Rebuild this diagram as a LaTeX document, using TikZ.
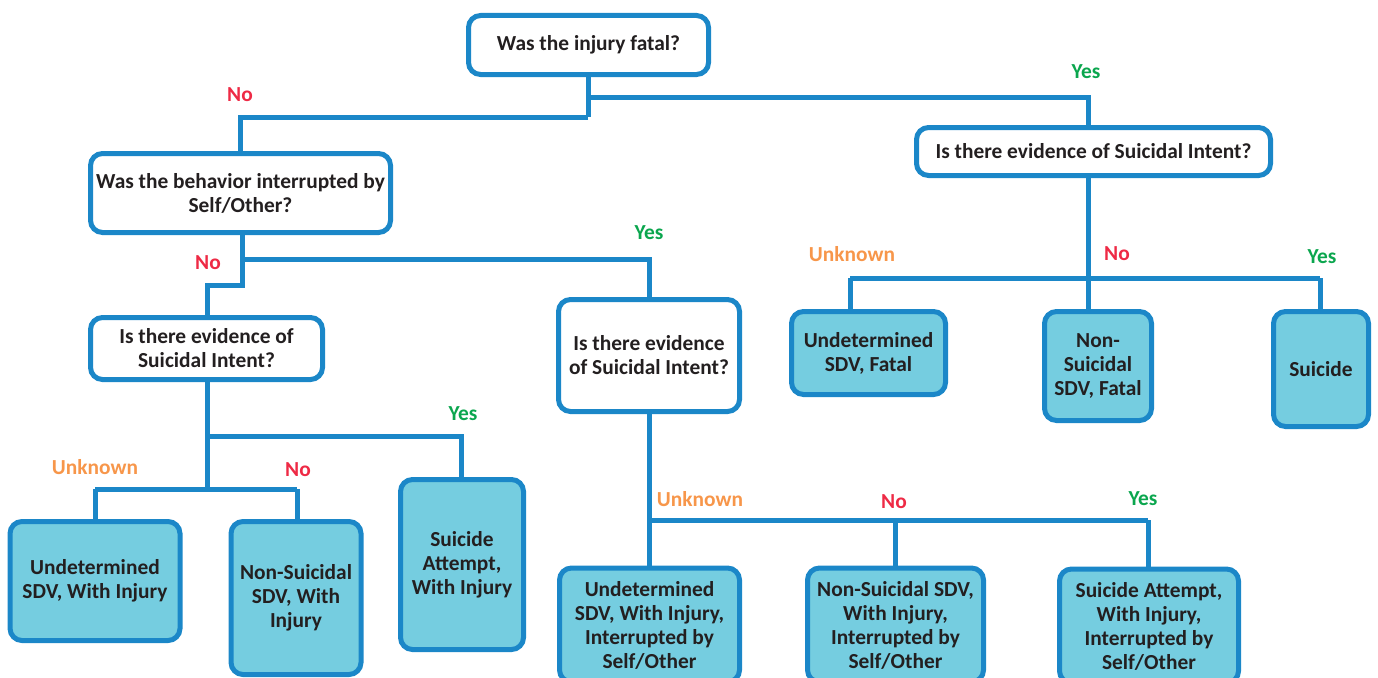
\documentclass[tikz,border=0pt]{standalone}
\usepackage{fontspec}
\setmainfont{Carlito}
\definecolor{lineblue}{HTML}{1B87C8}
\definecolor{boxfill}{HTML}{75CDE0}
\definecolor{txt}{HTML}{231F20}
\definecolor{nored}{HTML}{EE2A45}
\definecolor{yesgreen}{HTML}{0BA64E}
\definecolor{unkorange}{HTML}{F7964A}
\tikzset{
  x=1pt, y=-1pt,
  basebox/.style={draw=lineblue, line width=5pt, rounded corners=12pt, inner sep=0pt,
    align=center, text=txt, font=\fontsize{21.4}{24}\selectfont\bfseries},
  qbox/.style={basebox, fill=white},
  rbox/.style={basebox, fill=boxfill},
  conn/.style={draw=lineblue, line width=5pt},
  lab/.style={font=\fontsize{21.4}{24}\selectfont\bfseries, inner sep=0pt},
  lno/.style={lab, text=nored},
  lyes/.style={lab, text=yesgreen},
  lunk/.style={lab, text=unkorange},
}
\begin{document}
\begin{tikzpicture}
\useasboundingbox (0,0) rectangle (1378,677);
\clip (0,0) rectangle (1378,677);
% junction coordinates
\coordinate (jA1) at (588,97);
\coordinate (jA2) at (588,117);
\coordinate (jR) at (1088,278);
\coordinate (jB1) at (242,259);
\coordinate (jB2) at (242,285);
\coordinate (jL1) at (207,436);
\coordinate (jL2) at (207,489);
\coordinate (jM) at (649,520);

% connectors
\draw[conn] (588,77) -- (jA2);
\draw[conn] (jA1) -| (1088,126);
\draw[conn] (jA2) -| (240,152);
\draw[conn] (1088,177) -- (jR);
\draw[conn] (850,278) -- (1320,278);
\draw[conn] (850,278) -- (850,310);
\draw[conn] (jR) -- (1088,310);
\draw[conn] (1320,278) -- (1320,310);
\draw[conn] (242,234) -- (jB2) -| (207,316);
\draw[conn] (jB1) -| (649,298);
\draw[conn] (207,381) -- (jL2);
\draw[conn] (jL1) -| (461,478);
\draw[conn] (95,489) -- (297,489);
\draw[conn] (95,489) -- (95,520);
\draw[conn] (297,489) -- (297,520);
\draw[conn] (649,413) -- (jM);
\draw[conn] (jM) -- (1148,520);
\draw[conn] (jM) -- (649,568);
\draw[conn] (895,520) -- (895,568);
\draw[conn] (1148,520) -- (1148,568);

% question boxes
\node[qbox, minimum width=240pt, minimum height=59pt] (A) at (588.5,45) {Was the injury fatal?};
\node[qbox, minimum width=300pt, minimum height=79pt] (B) at (240.5,193) {Was the behavior interrupted by\\Self/Other?};
\node[qbox, minimum width=354pt, minimum height=48pt] (R) at (1093.5,151.5) {Is there evidence of Suicidal Intent?};
\node[qbox, minimum width=232pt, minimum height=62pt] (L) at (206.5,348.5) {Is there evidence of\\Suicidal Intent?};
\node[qbox, minimum width=181pt, minimum height=112pt] (M) at (649,355.5) {Is there evidence\\of Suicidal Intent?};

% result boxes
\node[rbox, minimum width=154pt, minimum height=83pt] (F1) at (868.5,353) {Undetermined\\SDV, Fatal};
\node[rbox, minimum width=107pt, minimum height=109pt] (F2) at (1098,366) {Non-\\Suicidal\\SDV, Fatal};
\node[rbox, minimum width=95pt, minimum height=115pt] (F3) at (1321,369) {Suicide};
\node[rbox, minimum width=170pt, minimum height=119pt] (I1) at (95,581) {Undetermined\\SDV, With Injury};
\node[rbox, minimum width=130pt, minimum height=153pt] (I2) at (296,598) {Non-Suicidal\\SDV, With\\Injury};
\node[rbox, minimum width=123pt, minimum height=170pt] (I3) at (462,564.5) {Suicide\\Attempt,\\With Injury};
\node[rbox, minimum width=180pt, minimum height=114pt] (T1) at (649.5,625) {Undetermined\\SDV, With Injury,\\Interrupted by\\Self/Other};
\node[rbox, minimum width=176pt, minimum height=114pt] (T2) at (895.5,625) {Non-Suicidal SDV,\\With Injury,\\Interrupted by\\Self/Other};
\node[rbox, minimum width=179pt, minimum height=114pt] (T3) at (1149,626) {Suicide Attempt,\\With Injury,\\Interrupted by\\Self/Other};

% labels
\node[lyes] (y1) at (1086,72) {Yes};
\node[lno] (n1) at (240,95) {No};
\node[lunk] (u1) at (852,254) {Unknown};
\node[lno] (n2) at (1117,254) {No};
\node[lyes] (y2) at (1322,257) {Yes};
\node[lyes] (y3) at (649,233) {Yes};
\node[lno] (n3) at (208,263) {No};
\node[lyes] (y4) at (463,414) {Yes};
\node[lunk] (u2) at (95,467) {Unknown};
\node[lno] (n4) at (298,470) {No};
\node[lunk] (u3) at (700,499) {Unknown};
\node[lno] (n5) at (894,502) {No};
\node[lyes] (y5) at (1143,499) {Yes};
\end{tikzpicture}
\end{document}
